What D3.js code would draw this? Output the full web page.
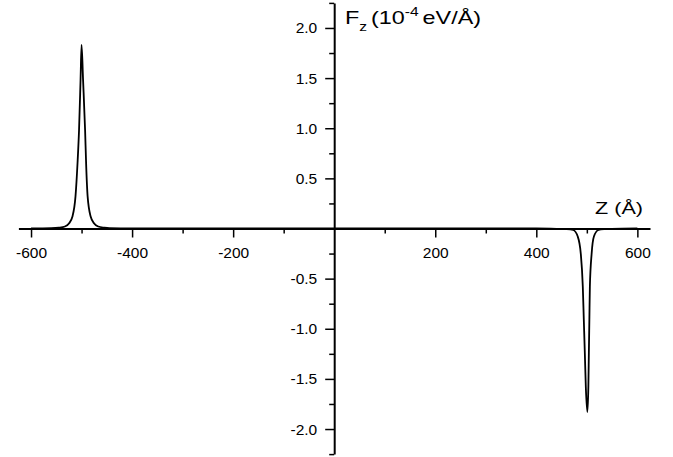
<!DOCTYPE html>
<html>
<head>
<meta charset="utf-8">
<script src="https://cdn.jsdelivr.net/npm/d3@7"></script>
<style>
  html, body { margin: 0; padding: 0; background: #fff; }
  svg { display: block; }
  text { font-family: "Liberation Sans", Arial, Helvetica, sans-serif; fill: #000; }
</style>
</head>
<body>
<svg id="chart" width="673" height="457"></svg>
<script>
// ---- data ----
const zValues = [-600, -560, -545, -533, -525, -518, -512, -508, -505, -502, -500, -497, -493, -491, -488, -482, -475, -467, -455, -445, -400,
                 0,
                 400, 440, 460, 473, 482, 488, 492, 494, 496, 498, 501, 503, 504, 505, 506, 509.5, 514, 523, 535, 549, 600];
const fValues = [0, 0.003, 0.008, 0.02, 0.05, 0.12, 0.32, 0.65, 0.98, 1.48, 1.83, 1.48, 0.98, 0.65, 0.32, 0.12, 0.05, 0.02, 0.008, 0.003, 0,
                 0,
                 0, -0.003, -0.006, -0.015, -0.08, -0.25, -0.58, -0.91, -1.24, -1.58, -1.83, -1.58, -1.24, -0.91, -0.58, -0.25, -0.08, -0.015, -0.006, -0.003, 0];
const xMajorTicks = [-600, -400, -200, 200, 400, 600];
const xMinorTicks = [-500, -300, -100, 100, 300, 500];
const yMajorTicks = [-2.0, -1.5, -1.0, -0.5, 0.5, 1.0, 1.5, 2.0];
const yMinorTicks = [-2.25, -1.75, -1.25, -0.75, -0.25, 0.25, 0.75, 1.25, 1.75, 2.25];
const xDomain = [-625, 625];
const yDomain = [-2.25, 2.25];

const svg = d3.select("#chart");
const x = d3.scaleLinear().domain(xDomain).range([18.4, 650.0]);
const y = d3.scaleLinear().domain(yDomain).range([454.1, 2.9]);
const x0 = x(0), y0 = y(0);

// x axis
const gx = svg.append("g").attr("transform", `translate(0,${y0})`);
gx.call(d3.axisBottom(x).tickValues(xMajorTicks).tickSize(9).tickSizeOuter(0)
  .tickPadding(9).tickFormat(d => String(d)));
gx.append("g").call(d3.axisBottom(x).tickValues(xMinorTicks).tickSize(5).tickFormat(""))
  .call(g => g.select(".domain").remove());

// y axis
const gy = svg.append("g").attr("transform", `translate(${x0},0)`);
gy.call(d3.axisLeft(y).tickValues(yMajorTicks).tickSize(9).tickSizeOuter(0)
  .tickPadding(8).tickFormat(d => d.toFixed(1)));
gy.append("g").call(d3.axisLeft(y).tickValues(yMinorTicks).tickSize(5).tickFormat(""))
  .call(g => g.select(".domain").remove());

svg.selectAll(".domain").attr("stroke", "#000").attr("stroke-width", 2);
svg.selectAll(".tick line").attr("stroke", "#000").attr("stroke-width", 1.5);
svg.selectAll(".tick text").attr("font-size", 15.5).attr("font-family", "Liberation Sans, Arial, sans-serif").attr("fill", "#000");

// curve
const pts = zValues.map((z, i) => [z, fValues[i]]);
const line = d3.line().x(d => x(d[0])).y(d => y(d[1])).curve(d3.curveMonotoneX);
svg.append("path").datum(pts).attr("d", line)
  .attr("fill", "none").attr("stroke", "#000").attr("stroke-width", 1.8);

// axis titles
const zt = svg.append("g").attr("transform", "translate(595,213.5) scale(1.35,1)");
zt.append("text").attr("font-size", 16).text("Z (Å)");

const ft = svg.append("g").attr("transform", "translate(345,24) scale(1.3,1)");
const ftxt = ft.append("text").attr("font-size", 18);
ftxt.append("tspan").text("F");
ftxt.append("tspan").attr("font-size", 12).attr("dx", 0).attr("dy", 7).text("z");
ftxt.append("tspan").attr("dx", 3).attr("dy", -7).text("(10");
ftxt.append("tspan").attr("font-size", 12).attr("dy", -8).text("-4");
ftxt.append("tspan").attr("dy", 8).attr("dx", 3).text("eV/Å)");
</script>
</body>
</html>
